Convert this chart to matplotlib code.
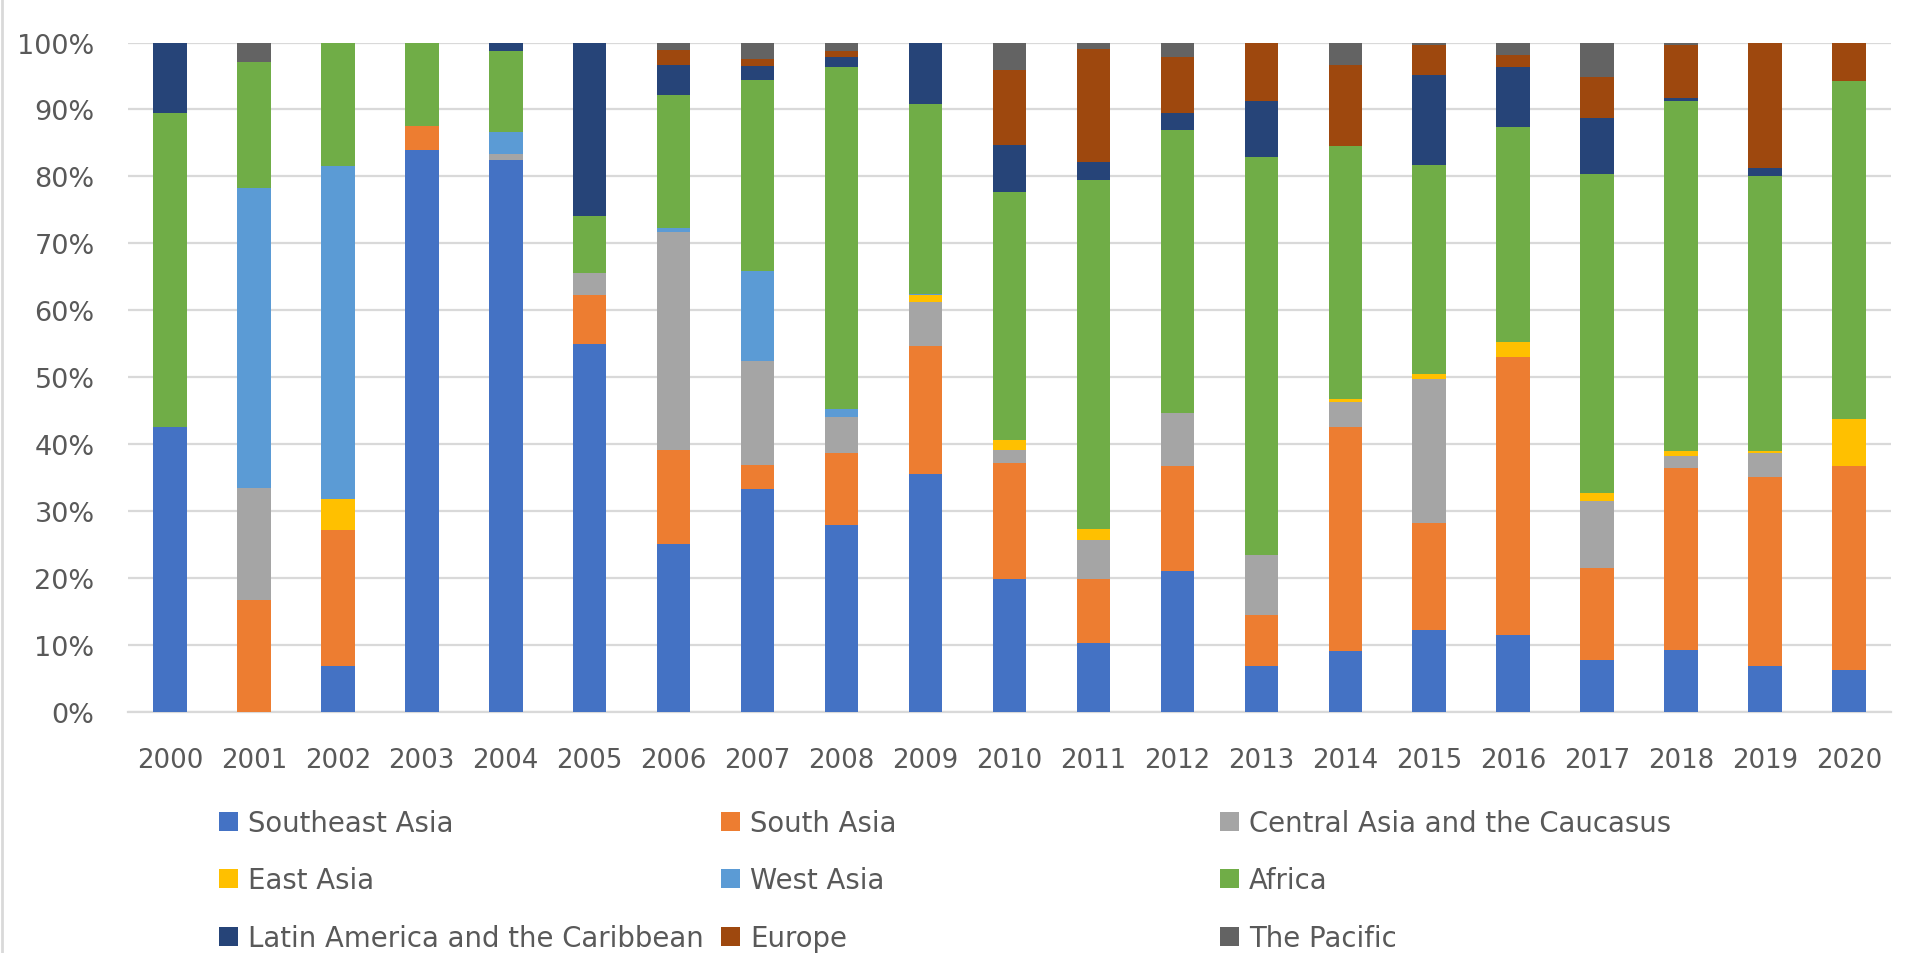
import numpy as np
import matplotlib
matplotlib.use("Agg")
import matplotlib.pyplot as plt
from matplotlib.patches import Patch
from matplotlib.ticker import PercentFormatter
from matplotlib.lines import Line2D

# 年份与地区
years = [str(y) for y in range(2000, 2021)]
regions = ['Southeast Asia', 'South Asia', 'Central Asia and the Caucasus',
           'East Asia', 'West Asia', 'Africa',
           'Latin America and the Caribbean', 'Europe', 'The Pacific']

# 各地区占比 (%)，按年份 2000-2020
southeast_asia = [42.5, 0, 6.8, 83.9, 82.4, 54.9, 25.1, 33.3, 27.9, 35.5, 19.9,
                  10.3, 21.1, 6.8, 9.1, 12.2, 11.5, 7.7, 9.3, 6.9, 6.3]
south_asia = [0, 16.7, 20.4, 3.7, 0, 7.4, 14.1, 3.6, 10.8, 19.2, 17.3,
              9.6, 15.7, 7.7, 33.4, 16.0, 41.6, 13.8, 27.2, 28.2, 30.4]
central_asia = [0, 16.8, 0, 0, 0.9, 3.3, 32.5, 15.5, 5.3, 6.6, 1.9,
                5.8, 7.9, 9.0, 3.8, 21.5, 0, 10.0, 1.8, 3.6, 0]
east_asia = [0, 0, 4.6, 0, 0, 0, 0, 0, 0, 1.0, 1.5,
             1.6, 0, 0, 0.4, 0.8, 2.1, 1.2, 0.7, 0.3, 7.1]
west_asia = [0, 44.8, 49.7, 0, 3.4, 0, 0.6, 13.5, 1.3, 0.2, 0,
             0, 0, 0, 0, 0, 0, 0, 0, 0, 0]
africa = [47.0, 18.8, 18.5, 12.4, 12.0, 8.5, 19.9, 28.5, 51.0, 28.3, 37.0,
          52.1, 42.2, 59.4, 37.9, 31.2, 32.2, 47.6, 52.3, 41.1, 50.5]
latin_america = [10.5, 0, 0, 0, 1.3, 25.9, 4.5, 2.1, 1.6, 9.2, 7.1,
                 2.7, 2.6, 8.3, 0, 13.4, 8.9, 8.4, 0.4, 1.2, 0]
europe = [0, 0, 0, 0, 0, 0, 2.2, 1.1, 0.8, 0, 11.2,
          17.0, 8.3, 8.8, 12.1, 4.6, 1.9, 6.2, 7.9, 18.7, 5.7]
pacific = [0, 2.9, 0, 0, 0, 0, 1.1, 2.4, 1.3, 0, 4.1,
           0.9, 2.2, 0, 3.3, 0.3, 1.8, 5.1, 0.4, 0, 0]

colors = ['#4472C4', '#ED7D31', '#A5A5A5', '#FFC000', '#5B9BD5',
          '#70AD47', '#264478', '#9E480E', '#636363']

data = np.array([southeast_asia, south_asia, central_asia, east_asia, west_asia,
                 africa, latin_america, europe, pacific], dtype=float)
data = data / data.sum(axis=0) * 100  # 百分比堆积

text_color = '#595959'
grid_color = '#D9D9D9'
fs = 18.7

fig = plt.figure(figsize=(19.15, 9.54), dpi=100)
ax = fig.add_axes([0.0668, 0.2526, 0.9207, 0.7018])

x = np.arange(len(years))
bottom = np.zeros(len(years))
for vals, name, c in zip(data, regions, colors):
    ax.bar(x, vals, 0.4, bottom=bottom, color=c, label=name, zorder=3)
    bottom += vals

ax.set_xlim(-0.5, len(years) - 0.5)
ax.set_ylim(0, 100)
ax.set_yticks(np.arange(0, 101, 10))
ax.yaxis.set_major_formatter(PercentFormatter(decimals=0))
ax.set_xticks(x)
ax.set_xticklabels(years)
ax.tick_params(axis='both', length=0, labelsize=fs, labelcolor=text_color)
ax.tick_params(axis='x', pad=25)
ax.tick_params(axis='y', pad=24, labelsize=19.5)
ax.grid(axis='y', color=grid_color, linewidth=1.6, zorder=0)
for s in ['top', 'right', 'left']:
    ax.spines[s].set_visible(False)
ax.spines['bottom'].set_color(grid_color)
ax.spines['bottom'].set_linewidth(1.6)

# 图例：三列，每列三项
columns = [[0, 3, 6], [1, 4, 7], [2, 5, 8]]
col_x = [219 / 1915, 721 / 1915, 1220 / 1915]
for cx, idx in zip(col_x, columns):
    handles = [Patch(facecolor=colors[i], edgecolor='none') for i in idx]
    labels = [regions[i] for i in idx]
    leg = fig.legend(handles, labels, loc='upper left',
                     bbox_to_anchor=(cx, 1 - 810 / 954),
                     frameon=False, fontsize=19.8, borderpad=0, borderaxespad=0,
                     handlelength=0.7, handleheight=0.7, handletextpad=0.36,
                     labelspacing=1.07, labelcolor=text_color)

# 左侧边框线
fig.add_artist(Line2D([0.0012, 0.0012], [0, 1], color=grid_color, linewidth=2))

plt.savefig('out.png', dpi=100)
